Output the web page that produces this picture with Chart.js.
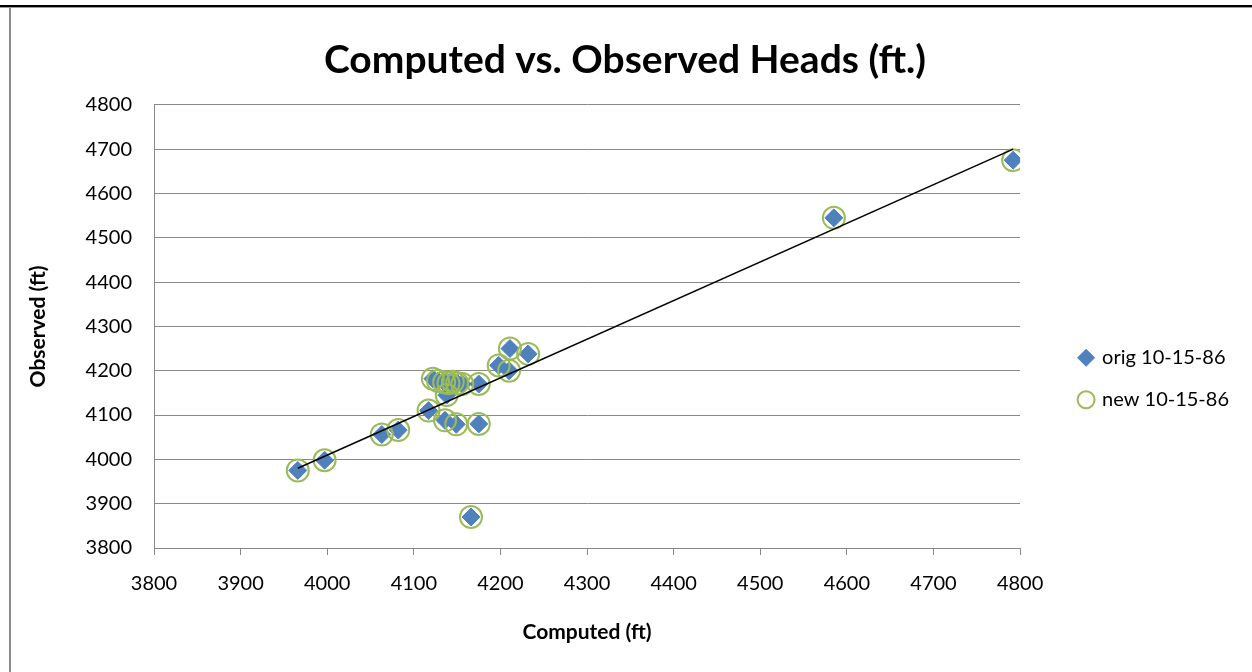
<!DOCTYPE html>
<html>
<head>
<meta charset="utf-8">
<script src="https://cdn.jsdelivr.net/npm/chart.js@4"></script>
<style>
  html, body { margin: 0; padding: 0; background: #fff; }
  body { width: 1252px; height: 672px; position: relative; overflow: hidden; }
  .topline { position: absolute; left: 0; top: 5px; width: 1252px; height: 2px; background: #000; border-bottom: 1px solid #999; }
  .frame { position: absolute; left: 9px; top: 8px; width: 1243px; height: 664px; border-left: 2px solid #8c8c8c; }
  .box { position: absolute; left: 11px; top: 8px; width: 1241px; height: 660px; }
</style>
</head>
<body>
<div class="topline"></div>
<div class="frame"></div>
<div class="box"><canvas id="myChart"></canvas></div>
<script>
// computed / observed heads
const origComputed = [3966, 3997, 4063, 4082, 4117, 4122, 4128, 4135, 4140, 4145, 4150, 4156, 4138, 4136, 4149, 4175, 4175, 4166, 4198, 4210, 4211, 4232, 4585, 4792];
const origObserved = [3975, 3998, 4056, 4066, 4110, 4182, 4177, 4174, 4172, 4175, 4172, 4170, 4145, 4088, 4079, 4080, 4170, 3870, 4212, 4200, 4250, 4238, 4545, 4675];
const newComputed = [3966, 3997, 4063, 4082, 4117, 4122, 4128, 4135, 4140, 4145, 4150, 4156, 4138, 4136, 4149, 4175, 4175, 4166, 4198, 4210, 4211, 4232, 4585, 4792];
const newObserved = [3975, 3998, 4056, 4066, 4110, 4182, 4177, 4174, 4172, 4175, 4172, 4170, 4145, 4088, 4079, 4080, 4170, 3870, 4212, 4200, 4250, 4238, 4545, 4675];
const lineX = [3966, 4792];
const lineY = [3980, 4700];
const xTicks = [3800, 3900, 4000, 4100, 4200, 4300, 4400, 4500, 4600, 4700, 4800];
const yTicks = [3800, 3900, 4000, 4100, 4200, 4300, 4400, 4500, 4600, 4700, 4800];

const pts = (xs, ys) => xs.map((x, i) => ({ x: x, y: ys[i] }));
const font = 'Lato';

const ctx = document.getElementById('myChart');
new Chart(ctx, {
  type: 'scatter',
  data: {
    datasets: [
      {
        label: 'orig 10-15-86',
        data: pts(origComputed, origObserved),
        pointStyle: 'rectRot',
        pointRadius: 9,
        backgroundColor: '#4F81BD',
        borderColor: '#4F81BD',
        borderWidth: 1,
        order: 2
      },
      {
        label: 'new 10-15-86',
        data: pts(newComputed, newObserved),
        pointStyle: 'circle',
        pointRadius: 11,
        backgroundColor: 'rgba(0,0,0,0)',
        borderColor: '#9BBB59',
        borderWidth: 2,
        order: 1
      },
      {
        label: 'line',
        type: 'line',
        data: pts(lineX, lineY),
        borderColor: '#000',
        borderWidth: 1.5,
        pointRadius: 0,
        fill: false,
        order: 0
      }
    ]
  },
  options: {
    responsive: true,
    maintainAspectRatio: false,
    animation: false,
    layout: { padding: { right: 13 } },
    plugins: {
      title: {
        display: true,
        text: 'Computed vs. Observed Heads (ft.)',
        color: '#000',
        font: { family: font, size: 39, weight: 'bold' },
        padding: { top: 29, bottom: 21 }
      },
      legend: {
        position: 'right',
        align: 'center',
        // empty title just pushes the items down a bit
        title: { display: true, text: ' ', font: { size: 18 }, padding: { top: 60, bottom: 0 } },
        labels: {
          usePointStyle: true,
          boxWidth: 12,
          boxHeight: 12,
          padding: 22,
          color: '#000',
          font: { family: font, size: 20 },
          filter: item => item.text !== 'line',
          sort: (a, b) => a.datasetIndex - b.datasetIndex
        }
      },
      tooltip: { enabled: false }
    },
    scales: {
      x: {
        type: 'linear',
        min: 3800,
        max: 4800,
        afterBuildTicks: s => { s.ticks = xTicks.map(v => ({ value: v })); },
        afterFit: s => { s.height = 120; },
        grid: { drawOnChartArea: false, drawTicks: true, tickLength: 7, color: '#888' },
        border: { color: '#888', width: 1 },
        ticks: { color: '#000', padding: 17, font: { family: font, size: 20 }, callback: v => String(v) },
        title: {
          display: true,
          text: 'Computed (ft)',
          color: '#000',
          font: { family: font, size: 21, weight: 'bold' },
          padding: { top: 0, bottom: 23 }
        }
      },
      y: {
        type: 'linear',
        min: 3800,
        max: 4800,
        afterBuildTicks: s => { s.ticks = yTicks.map(v => ({ value: v })); },
        afterFit: s => { s.width = 143; },
        grid: { color: '#888', drawTicks: false },
        border: { color: '#888', width: 1 },
        ticks: { color: '#000', padding: 22, font: { family: font, size: 20 }, callback: v => String(v) },
        title: {
          display: true,
          text: 'Observed (ft)',
          color: '#000',
          font: { family: font, size: 21, weight: 'bold' },
          padding: { top: 15, bottom: 0 }
        }
      },
      // empty gap between plot and legend
      gap: {
        type: 'linear',
        position: 'right',
        grid: { display: false },
        border: { display: false },
        ticks: { display: false },
        afterFit: s => { s.width = 38; }
      }
    }
  }
});
</script>
</body>
</html>
